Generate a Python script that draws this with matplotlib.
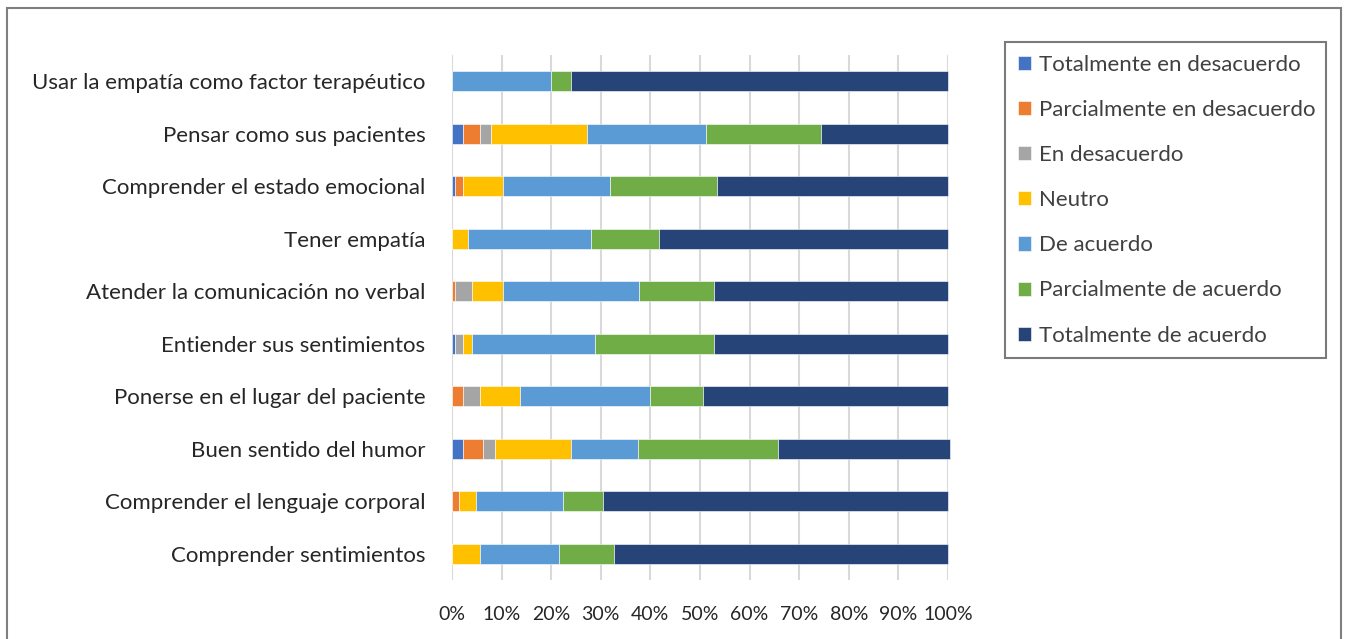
import matplotlib.pyplot as plt
import numpy as np
from matplotlib.patches import Rectangle

plt.rcParams['font.family'] = ['Lato', 'DejaVu Sans']

categorias = ["Usar la empatía como factor terapéutico",
              "Pensar como sus pacientes",
              "Comprender el estado emocional",
              "Tener empatía",
              "Atender la comunicación no verbal",
              "Entiender sus sentimientos",
              "Ponerse en el lugar del paciente",
              "Buen sentido del humor",
              "Comprender el lenguaje corporal",
              "Comprender sentimientos"]

series = ["Totalmente en desacuerdo", "Parcialmente en desacuerdo", "En desacuerdo",
          "Neutro", "De acuerdo", "Parcialmente de acuerdo", "Totalmente de acuerdo"]

# percentages per category (top to bottom)
tot_desac = [0, 2.2, 0.7, 0, 0, 0.7, 0, 2.2, 0, 0]
parc_desac = [0, 3.4, 1.6, 0, 0.7, 0, 2.2, 4.1, 1.5, 0]
en_desac = [0, 2.3, 0, 0, 3.4, 1.5, 3.4, 2.3, 0, 0]
neutro = [0, 19.3, 7.9, 3.3, 6.2, 1.8, 8.1, 15.3, 3.3, 5.6]
de_acuerdo = [20.0, 24.0, 21.7, 24.8, 27.4, 24.8, 26.3, 13.7, 17.6, 16.0]
parc_acuerdo = [3.9, 23.1, 21.6, 13.6, 15.2, 24.0, 10.6, 28.1, 8.0, 11.1]
tot_acuerdo = [76.1, 25.7, 46.5, 58.3, 47.1, 47.2, 49.4, 34.8, 69.6, 67.3]

colores = ["#4472C4", "#ED7D31", "#A5A5A5", "#FFC000", "#5B9BD5", "#70AD47", "#264478"]

fig = plt.figure(figsize=(13.49, 6.39), dpi=100)
ax = fig.add_axes([452/1349, 1-580/639, 496/1349, 525/639])

y = np.arange(len(categorias))[::-1]
left = np.zeros(len(categorias))
for nombre, vals, col in zip(series, [tot_desac, parc_desac, en_desac, neutro, de_acuerdo, parc_acuerdo, tot_acuerdo], colores):
    vals = np.array(vals)
    ax.barh(y, vals, left=left, height=0.39, color=col, label=nombre,
            edgecolor='white', linewidth=0.4, zorder=3, clip_on=False)
    left += vals

ax.set_xlim(0, 100)
ax.set_ylim(-0.5, len(categorias) - 0.5)
ax.set_xticks(np.arange(0, 101, 10))
ax.set_xticklabels([f"{v}%" for v in range(0, 101, 10)], fontsize=14, color='#262626')
ax.set_yticks(y)
ax.set_yticklabels(categorias, fontsize=16, color='#262626')
ax.tick_params(length=0)
ax.tick_params(axis='y', pad=19)
ax.tick_params(axis='x', pad=19)
ax.grid(axis='x', color='#D9D9D9', linewidth=1.5, zorder=0)
for s in ax.spines.values():
    s.set_visible(False)

leg = ax.legend(loc='upper left', bbox_to_anchor=(1005/1349, 1-355/639, 321/1349, 313/639),
                bbox_transform=fig.transFigure, mode='expand', fontsize=16,
                handlelength=0.6, handleheight=0.6, handletextpad=0.35,
                labelspacing=1.13, borderpad=0.58, borderaxespad=0, fancybox=False,
                labelcolor='#404040')
leg.get_frame().set_edgecolor('#595959')
leg.get_frame().set_linewidth(1.5)

fig.patches.append(Rectangle((7/1349, -0.05), 1334/1349, 1.05 - 8/639, transform=fig.transFigure,
                             fill=False, edgecolor='#7F7F7F', linewidth=1.5))

fig.savefig("out.png", dpi=100)
